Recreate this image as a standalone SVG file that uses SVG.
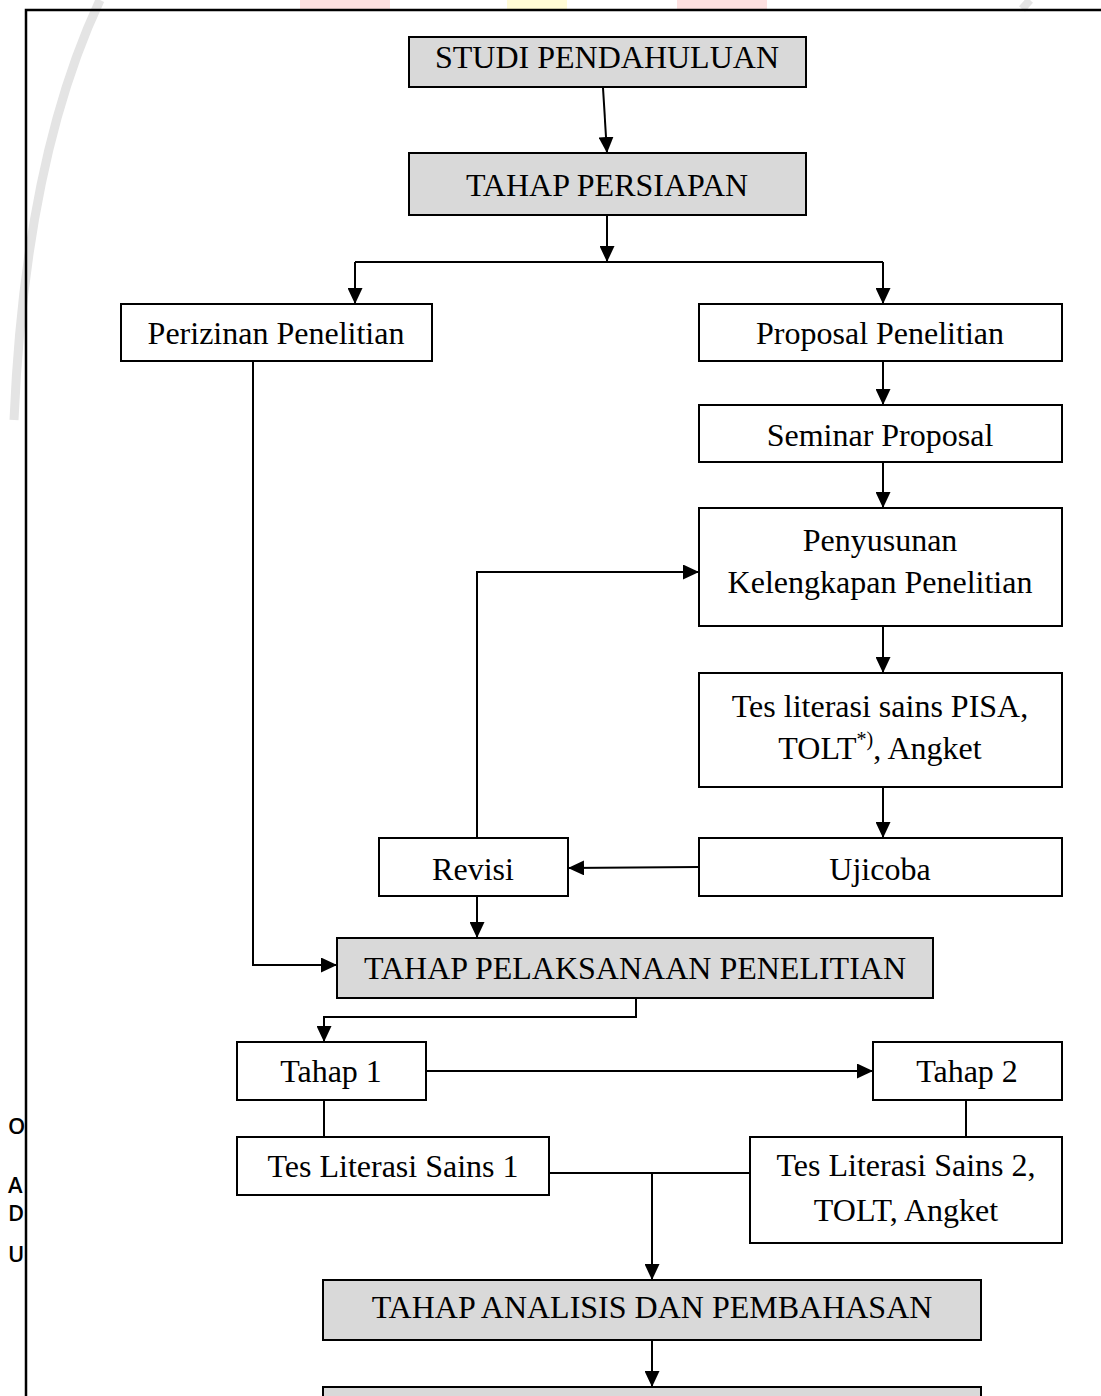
<svg xmlns="http://www.w3.org/2000/svg" width="1101" height="1396" viewBox="0 0 1101 1396">
<style>
.box{fill:#ffffff;stroke:#000;stroke-width:2}
.gbox{fill:#d9d9d9;stroke:#000;stroke-width:2}
.t{font-family:"Liberation Serif","Times New Roman",serif;font-size:32px;fill:#000;text-anchor:middle}
.c{fill:none;stroke:#000;stroke-width:2}
.side{font-family:"Open Sans","DejaVu Sans",sans-serif;font-size:22px;font-weight:600;fill:#000}
</style>
<defs>
<marker id="ah" markerWidth="16" markerHeight="15" refX="16" refY="7.5" orient="auto" markerUnits="userSpaceOnUse">
<path d="M0,0 L16,7.5 L0,15 z" fill="#000"/>
</marker>
<clipPath id="leftclip"><rect x="0" y="0" width="26" height="1396"/></clipPath>
</defs>
<rect x="0" y="0" width="1101" height="1396" fill="#fff"/>
<g id="watermark">
<path d="M100,0 Q25,160 14,420" fill="none" stroke="#e4e4e4" stroke-width="9"/>
<rect x="300" y="0" width="90" height="9" fill="#fde0e0"/>
<rect x="507" y="0" width="60" height="9" fill="#fffbd6"/>
<rect x="677" y="0" width="90" height="9" fill="#fde0e0"/>
<path d="M1030,0 L1022,9" stroke="#e4e4e4" stroke-width="8"/>
</g>
<g id="side-letters" clip-path="url(#leftclip)">
<text class="side" x="8" y="1134">O</text>
<text class="side" x="8" y="1193">A</text>
<text class="side" x="8" y="1221">D</text>
<text class="side" x="8" y="1262">U</text>
</g>
<g id="frame">
<path d="M26,1396 L26,10 L1101,10" fill="none" stroke="#000" stroke-width="2.5"/>
</g>
<g id="connectors">
<path class="c" d="M603,88 L607,153" marker-end="url(#ah)"/>
<path class="c" d="M607,215 L607,262" marker-end="url(#ah)"/>
<path class="c" d="M355,262 L883,262"/>
<path class="c" d="M355,262 L355,304" marker-end="url(#ah)"/>
<path class="c" d="M883,262 L883,304" marker-end="url(#ah)"/>
<path class="c" d="M883,361 L883,405" marker-end="url(#ah)"/>
<path class="c" d="M883,462 L883,508" marker-end="url(#ah)"/>
<path class="c" d="M883,626 L883,673" marker-end="url(#ah)"/>
<path class="c" d="M883,787 L883,838" marker-end="url(#ah)"/>
<path class="c" d="M699,867 L568,868" marker-end="url(#ah)"/>
<path class="c" d="M477,838 L477,572 L699,572" marker-end="url(#ah)"/>
<path class="c" d="M477,896 L477,938" marker-end="url(#ah)"/>
<path class="c" d="M253,361 L253,965 L337,965" marker-end="url(#ah)"/>
<path class="c" d="M636,998 L636,1017 L324,1017 L324,1042" marker-end="url(#ah)"/>
<path class="c" d="M426,1071 L873,1071" marker-end="url(#ah)"/>
<path class="c" d="M324,1100 L324,1137"/>
<path class="c" d="M966,1100 L966,1137"/>
<path class="c" d="M549,1173 L750,1173"/>
<path class="c" d="M652,1173 L652,1280" marker-end="url(#ah)"/>
<path class="c" d="M652,1340 L652,1387" marker-end="url(#ah)"/>
</g>
<g id="studi"><rect class="gbox" x="409" y="37" width="397" height="50"/><text class="t" x="607" y="68">STUDI PENDAHULUAN</text></g>
<g id="persiapan"><rect class="gbox" x="409" y="153" width="397" height="62"/><text class="t" x="607" y="196">TAHAP PERSIAPAN</text></g>
<g id="perizinan"><rect class="box" x="121" y="304" width="311" height="57"/><text class="t" x="276" y="344">Perizinan Penelitian</text></g>
<g id="proposal"><rect class="box" x="699" y="304" width="363" height="57"/><text class="t" x="880" y="344">Proposal Penelitian</text></g>
<g id="seminar"><rect class="box" x="699" y="405" width="363" height="57"/><text class="t" x="880" y="446">Seminar Proposal</text></g>
<g id="penyusunan"><rect class="box" x="699" y="508" width="363" height="118"/><text class="t" x="880" y="551">Penyusunan</text><text class="t" x="880" y="593">Kelengkapan Penelitian</text></g>
<g id="tes-pisa"><rect class="box" x="699" y="673" width="363" height="114"/><text class="t" x="880" y="717">Tes literasi sains PISA,</text><text class="t" x="880" y="759">TOLT<tspan font-size="20" dy="-13">*)</tspan><tspan dy="13">, Angket</tspan></text></g>
<g id="ujicoba"><rect class="box" x="699" y="838" width="363" height="58"/><text class="t" x="880" y="880">Ujicoba</text></g>
<g id="revisi"><rect class="box" x="379" y="838" width="189" height="58"/><text class="t" x="473" y="880">Revisi</text></g>
<g id="pelaksanaan"><rect class="gbox" x="337" y="938" width="596" height="60"/><text class="t" x="635" y="979">TAHAP PELAKSANAAN PENELITIAN</text></g>
<g id="tahap1"><rect class="box" x="237" y="1042" width="189" height="58"/><text class="t" x="331" y="1082">Tahap 1</text></g>
<g id="tahap2"><rect class="box" x="873" y="1042" width="189" height="58"/><text class="t" x="967" y="1082">Tahap 2</text></g>
<g id="tes1"><rect class="box" x="237" y="1137" width="312" height="58"/><text class="t" x="393" y="1177">Tes Literasi Sains 1</text></g>
<g id="tes2"><rect class="box" x="750" y="1137" width="312" height="106"/><text class="t" x="906" y="1176">Tes Literasi Sains 2,</text><text class="t" x="906" y="1221">TOLT, Angket</text></g>
<g id="analisis"><rect class="gbox" x="323" y="1280" width="658" height="60"/><text class="t" x="652" y="1318">TAHAP ANALISIS DAN PEMBAHASAN</text></g>
<g id="kesimpulan"><rect class="gbox" x="323" y="1387" width="658" height="40"/></g>
</svg>
